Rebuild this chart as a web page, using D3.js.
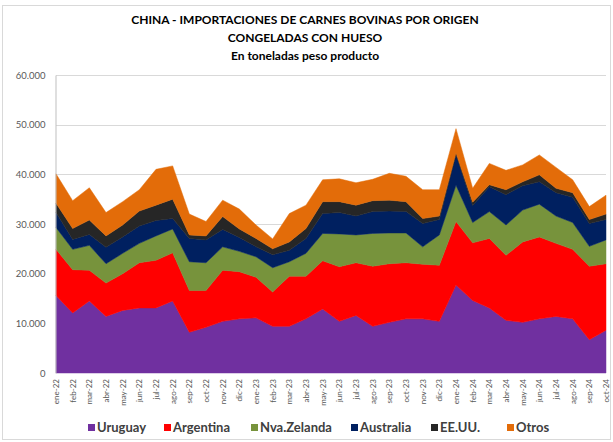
<!DOCTYPE html>
<html>
<head>
<meta charset="utf-8">
<script src="https://cdn.jsdelivr.net/npm/d3@7"></script>
<style>
  body { margin: 0; background: #fff; }
  svg { display: block; font-family: Lato, "Liberation Sans", sans-serif; }
</style>
</head>
<body>
<svg id="chart"></svg>
<script>
const months = ["ene-22","feb-22","mar-22","abr-22","may-22","jun-22","jul-22","ago-22","sep-22","oct-22","nov-22","dic-22",
  "ene-23","feb-23","mar-23","abr-23","may-23","jun-23","jul-23","ago-23","sep-23","oct-23","nov-23","dic-23",
  "ene-24","feb-24","mar-24","abr-24","may-24","jun-24","jul-24","ago-24","sep-24","oct-24"];

const uruguay   = [15600,12100,14500,11400,12600,13100,13100,14500,8200,9200,10400,10900,11100,9400,9400,10900,12900,10400,11600,9400,10200,10900,10900,10400,17700,14600,13100,10600,10200,10900,11400,10900,6700,8600];
const argentina = [9300,8700,6200,6700,7400,9100,9600,9700,8400,7400,10300,9500,8200,6900,10100,8600,9700,11000,10600,12100,11800,11300,11000,11300,12800,11600,14000,13100,16200,16500,14700,14000,14800,13400];
const nzelanda  = [4400,4100,5000,3900,4100,3900,4900,4800,5800,5600,4700,4100,4100,4900,2900,4600,5500,6600,5600,6600,6200,6000,3500,6100,7300,4100,5400,6100,6400,6600,5500,5400,4000,4800];
const australia = [3000,2000,2200,3300,3300,3500,3100,2100,4700,4600,3500,2800,2000,2600,2300,3000,4000,4300,3800,4400,4400,4300,4700,3100,6200,3400,5000,6100,4900,4500,4700,5100,4600,4100];
const eeuu      = [1900,2200,2900,2300,2400,3000,3100,3900,700,800,2600,1700,1700,1200,1700,2000,2400,2200,2200,2200,2200,2000,1000,700,300,700,400,1000,800,1400,900,900,800,1100];
const otros     = [5900,5600,6500,4700,4700,4300,7200,6700,4200,2900,3300,4000,2700,2000,5700,4700,4400,4600,4500,4300,5400,5100,5800,5300,4900,2800,4300,3900,3400,4000,4200,2600,2600,3800];

const seriesNames = ["Uruguay","Argentina","Nva.Zelanda","Australia","EE.UU.","Otros"];
const seriesValues = [uruguay, argentina, nzelanda, australia, eeuu, otros];
const colors = ["#7030A0","#FF0000","#77933C","#002060","#262626","#E36C09"];
const yTicks = [0,10000,20000,30000,40000,50000,60000];

const W = 613, H = 442;
const svg = d3.select("#chart").attr("width", W).attr("height", H);

// frame
svg.append("rect")
  .attr("x", 2.5).attr("y", 5.5).attr("width", 608).attr("height", 434)
  .attr("fill", "#fff").attr("stroke", "#d9d9d9");

// titles
const titles = ["CHINA - IMPORTACIONES DE CARNES BOVINAS POR ORIGEN", "CONGELADAS CON HUESO", "En toneladas peso producto"];
svg.selectAll("text.title")
  .data(titles)
  .enter()
  .append("text")
  .attr("class", "title")
  .attr("x", 305)
  .attr("y", (d, i) => 24 + i * 18)
  .attr("text-anchor", "middle")
  .attr("font-size", 12)
  .attr("font-weight", "bold")
  .attr("fill", "#000")
  .text(d => d);

const x = d3.scalePoint().domain(months).range([56, 606]);
const y = d3.scaleLinear().domain([0, 60000]).range([373, 75]);

const locale = d3.formatLocale({ decimal: ",", thousands: ".", grouping: [3], currency: ["", ""] });
const fmt = locale.format(",");

// gridlines
svg.append("g")
  .selectAll("line")
  .data(yTicks.slice(1))
  .enter()
  .append("line")
  .attr("x1", 56).attr("x2", 606)
  .attr("y1", d => Math.round(y(d)) + 0.5)
  .attr("y2", d => Math.round(y(d)) + 0.5)
  .attr("stroke", "#d9d9d9");

// stacked areas
const table = months.map((m, i) => {
  const row = { month: m };
  seriesNames.forEach((s, k) => row[s] = seriesValues[k][i]);
  return row;
});
const stacked = d3.stack().keys(seriesNames)(table);
const area = d3.area()
  .x(d => x(d.data.month))
  .y0(d => y(d[0]))
  .y1(d => y(d[1]));

svg.append("g")
  .selectAll("path")
  .data(stacked)
  .enter()
  .append("path")
  .attr("d", area)
  .attr("fill", (d, i) => colors[i])
  .attr("stroke", (d, i) => colors[i])
  .attr("stroke-width", 0.5);

// y axis
const yAxis = d3.axisLeft(y).tickValues(yTicks).tickFormat(fmt).tickSize(0).tickPadding(10);
const gy = svg.append("g")
  .attr("transform", "translate(55.5,0)")
  .call(yAxis);
gy.select(".domain").attr("stroke", "#bfbfbf");
gy.selectAll("text").attr("font-size", 9.5).attr("fill", "#595959").attr("font-family", "Lato, sans-serif");

// x labels
svg.append("g")
  .selectAll("text")
  .data(months)
  .enter()
  .append("text")
  .attr("transform", d => `translate(${x(d) + 3},379) rotate(-90)`)
  .attr("text-anchor", "end")
  .attr("font-size", 8)
  .attr("fill", "#595959")
  .text(d => d);

// legend
const legendX = [88, 164, 251, 351, 431, 507];
const legend = svg.append("g")
  .selectAll("g")
  .data(seriesNames)
  .enter()
  .append("g")
  .attr("transform", (d, i) => `translate(${legendX[i]},428)`);
legend.append("rect")
  .attr("x", 0).attr("y", -4).attr("width", 7).attr("height", 7)
  .attr("fill", (d, i) => colors[i]);
legend.append("text")
  .attr("x", 9).attr("y", 4)
  .attr("font-size", 13)
  .attr("font-weight", "bold")
  .attr("fill", "#404040")
  .text(d => d);
</script>
</body>
</html>
